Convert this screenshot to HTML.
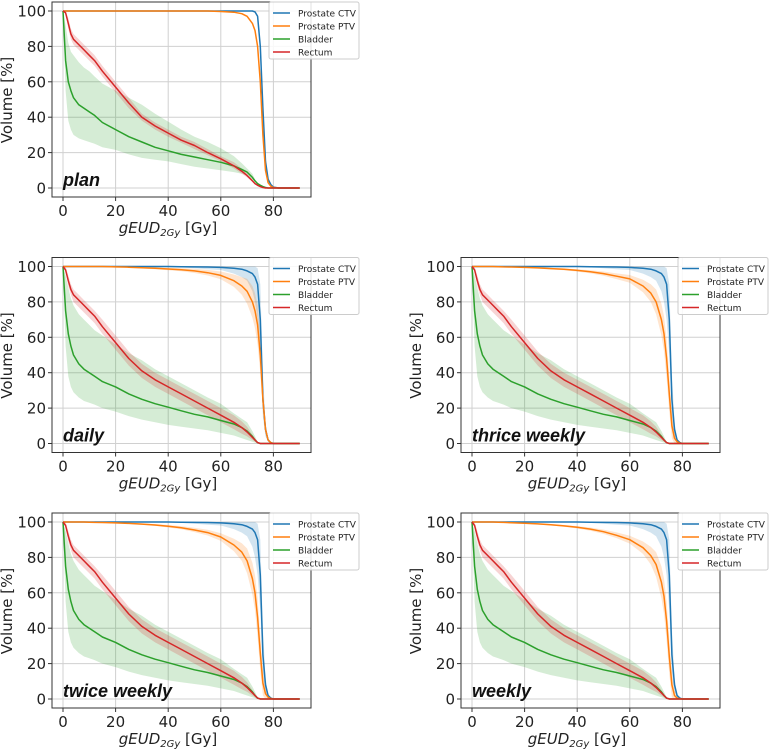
<!DOCTYPE html>
<html><head><meta charset="utf-8">
<style>
html,body{margin:0;padding:0;background:#fff;}
svg{display:block;font-family:"DejaVu Sans","Liberation Sans",sans-serif;}
</style></head>
<body>
<svg id="fig" width="770" height="749" viewBox="0 0 770 749" xmlns="http://www.w3.org/2000/svg"></svg>
<script>
const dose = [0,1,2,3,4,6,8,10,12,15,20,25,30,35,40,45,50,55,60,65,68,70,72,73,74,75,76,77,78,79,80,82,85,90];
const xTicks = [0,20,40,60,80];
const yTicks = [0,20,40,60,80,100];
const seriesNames = ["Prostate CTV","Prostate PTV","Bladder","Rectum"];
const panelLabels = ["plan","daily","thrice weekly","twice weekly","weekly"];

// plan
const planCTV = [100,100,100,100,100,100,100,100,100,100,100,100,100,100,100,100,100,100,100,100,100,100,100,99.5,97,80,45,15,5,2,0.5,0,0,0];
const planPTV = [100,100,100,100,100,100,100,100,100,100,100,100,100,100,100,100,100,100,99.7,99.3,98.5,97,93,89,80,60,30,10,3,1,0.3,0,0,0];
const planBladder = [100,72,60,55,51,47,45,43,41,37,33,29,26,23,21,19,17.5,16,14.5,12.5,10.5,9,6,4,2.5,1.5,0.8,0.3,0,0,0,0,0,0];
const planBladderLo = [100,55,38,33,30,28,27,26,25,23,21.5,19,17,16,15,13.5,12,11,10,9,8,7,5,3.5,2,1,0.5,0.2,0,0,0,0,0,0];
const planBladderHi = [100,92,82,77,75,71,68,66,63,59,55,51,47,42,37.5,33,29,26,22.5,18,14,11,8,5,3,2,1,0.4,0,0,0,0,0,0];
const planRectum = [100,99,93,87,84,81,78,75,72,66,57,48,40,35,31,27,24,20,16.5,12.5,9.5,7,4,2.5,1.5,0.8,0.3,0,0,0,0,0,0,0];
const planRectumLo = [100,98,90,84,81,78,75,72,69,63,54,45,38,33,29,25.5,22,18.5,15,11,8,6,3.5,2,1.2,0.6,0.2,0,0,0,0,0,0,0];
const planRectumHi = [100,100,96,90,87,84,81,78,75,69,60,51,42,37,33,29,26,22,18,14.5,11,8,5,3,1.8,1,0.4,0,0,0,0,0,0,0];

// fractionated panels (shared)
const fxCTV = [100,100,100,100,100,100,100,100,100,100,100,100,100,100,100,99.9,99.8,99.7,99.5,99,98.5,97.5,96,94,90,70,25,8,2,0.5,0,0,0,0];
const fxCTVLo = [100,100,100,100,100,100,100,100,100,100,100,100,100,100,99.8,99.5,99,98.5,98,96,94,92,86,80,70,50,15,4,1,0,0,0,0,0];
const fxCTVHi = [100,100,100,100,100,100,100,100,100,100,100,100,100,100,100,100,100,100,100,100,100,100,100,100,99,90,40,12,3,1,0,0,0,0];
const fxBladder = [100,75,62,55,50,45,42,40,38,35,32,28,25,22.5,20.5,18.5,16.5,15,13,11,9,7,4,2,0.5,0,0,0,0,0,0,0,0,0];
const fxBladderLo = [100,55,38,32,29,26,24,23,22,20,18,15.5,13.5,12,10.5,9.5,8.5,7.5,6,4.5,3,2,1,0.5,0,0,0,0,0,0,0,0,0,0];
const fxBladderHi = [100,95,88,82,78,73,70,67,64,61,56,51,47,42,38,34,30,26,22.5,17,14,12,7,4,1,0,0,0,0,0,0,0,0,0];
const fxRectum = [100,98,92,87,84,81,78,75,72,66,57,48,41,36,32,28,24,20,16,12,9,6.5,3.5,2,0.5,0,0,0,0,0,0,0,0,0];
const fxRectumLo = [100,97,89,84,80,77,74,71,68,62,53,44,37,32,28,24,20,16,12,8,5.5,4,2,1,0.2,0,0,0,0,0,0,0,0,0];
const fxRectumHi = [100,100,95,90,87,84,81,78,75,70,61,52,45,40,36,32,28,24,20,16,12.5,9.5,5,3,1,0,0,0,0,0,0,0,0,0];
const dailyPTV = [100,100,100,100,100,100,100,100,100,100,99.8,99.6,99.3,99,98.6,98.2,97.5,96.5,95,92,89,86,80,75,67,50,25,8,2,0.5,0,0,0,0];
const thricePTV = [100,100,100,100,100,100,100,99.9,99.8,99.7,99.5,99.2,98.8,98.4,97.8,97,96,94.5,93,89,85,80,70,62,48,28,10,3,1,0.3,0,0,0,0];
const twicePTV = [100,100,100,100,100,100,100,99.9,99.8,99.7,99.5,99.2,98.8,98.3,97.6,96.8,95.5,94,91.5,87,83,78,68,60,46,26,9,3,1,0.3,0,0,0,0];
const weeklyPTV = [100,100,100,100,100,100,100,99.9,99.8,99.6,99.3,98.9,98.4,97.8,97,96,94.5,92.5,90,85.5,81,76,66,58,44,24,8,2,0.5,0.2,0,0,0,0];
const ptvBandHalf = [0,0,0,0,0,0,0,0,0.1,0.1,0.2,0.3,0.4,0.5,0.7,0.9,1.2,1.6,2.2,3.5,5,7,9,10,11,10,7,3,1,0.3,0,0,0,0];

const colors = ["#1f77b4","#ff7f0e","#2ca02c","#d62728"];
const svg = document.getElementById('fig');
const NS = "http://www.w3.org/2000/svg";
function mk(tag, attrs, parent){ const e=document.createElementNS(NS,tag); for(const k in attrs) e.setAttribute(k,attrs[k]); (parent||svg).appendChild(e); return e; }

const panels = [
  {col:0,row:0,ptv:planPTV,ptvLo:planPTV,ptvHi:planPTV,ctv:planCTV,ctvLo:planCTV,ctvHi:planCTV,bl:planBladder,blLo:planBladderLo,blHi:planBladderHi,re:planRectum,reLo:planRectumLo,reHi:planRectumHi},
  {col:0,row:1,ptv:dailyPTV},
  {col:1,row:1,ptv:thricePTV},
  {col:0,row:2,ptv:twicePTV},
  {col:1,row:2,ptv:weeklyPTV}
];
panels.forEach((p,i)=>{
  if(i>0){
    p.ctv=fxCTV;p.ctvLo=fxCTVLo;p.ctvHi=fxCTVHi;
    p.bl=fxBladder;p.blLo=fxBladderLo;p.blHi=fxBladderHi;
    p.re=fxRectum;p.reLo=fxRectumLo;p.reHi=fxRectumHi;
    p.ptvLo=p.ptv.map((v,j)=>Math.max(0,v-ptvBandHalf[j]));
    p.ptvHi=p.ptv.map((v,j)=>Math.min(100,v+ptvBandHalf[j]));
  }
});

panels.forEach((p,i)=>{
  const x0 = 63 + p.col*409, y0 = 188 + p.row*255.5;
  const sx = d => x0 + d*2.63;
  const sy = v => y0 - v*1.77;
  const g = mk('g',{});
  
  
  const L=x0-11,R=x0+248,T=y0-186,B=y0+9;
  xTicks.forEach(t=>{
    const l=mk('line',{x1:sx(t),x2:sx(t),y1:T,y2:B,stroke:'#d0d0d0','stroke-width':1},g);
     
    const tk=mk('line',{x1:sx(t),x2:sx(t),y1:B,y2:B+4,stroke:'#333','stroke-width':1},g);
     
    const tx=mk('text',{x:sx(t),y:B+19,'font-size':15,'text-anchor':'middle',fill:'#222'},g);
    tx.textContent=t;
     
  });
  yTicks.forEach(t=>{
    const l=mk('line',{x1:L,x2:R,y1:sy(t),y2:sy(t),stroke:'#d0d0d0','stroke-width':1},g);
     
    const tk=mk('line',{x1:L-4,x2:L,y1:sy(t),y2:sy(t),stroke:'#333','stroke-width':1},g);
     
    const tx=mk('text',{x:L-6,y:sy(t)+5.5,'font-size':15,'text-anchor':'end',fill:'#222'},g);
    tx.textContent=t;
     
  });
  const sets=[[p.ctv,p.ctvLo,p.ctvHi],[p.ptv,p.ptvLo,p.ptvHi],[p.bl,p.blLo,p.blHi],[p.re,p.reLo,p.reHi]];
  sets.forEach((s,k)=>{
    let d='M'+dose.map((x,j)=>sx(x).toFixed(1)+','+sy(s[2][j]).toFixed(1)).join('L');
    for(let j=dose.length-1;j>=0;j--) d+='L'+sx(dose[j]).toFixed(1)+','+sy(s[1][j]).toFixed(1);
    const b=mk('path',{d:d+'Z',fill:colors[k],'fill-opacity':0.2,stroke:'none'},g);
    
    
  });
  sets.forEach((s,k)=>{
    const d='M'+dose.map((x,j)=>sx(x).toFixed(1)+','+sy(s[0][j]).toFixed(1)).join('L');
    const ln=mk('path',{d:d,fill:'none',stroke:colors[k],'stroke-width':1.5,'stroke-linejoin':'round'},g);
    
    
  });
  const fr=mk('rect',{x:L,y:T,width:R-L,height:B-T,fill:'none',stroke:'#333','stroke-width':1},g);
   
  const pl=mk('text',{x:x0,y:y0-2,'font-size':18,'font-weight':'bold','font-style':'italic',fill:'#111','font-family':'"Liberation Sans",sans-serif'},g);
  pl.textContent=panelLabels[i];
   
  const xl=mk('text',{x:x0+105,y:y0+45,'font-size':15,'text-anchor':'middle',fill:'#222'},g);
  xl.innerHTML='<tspan font-style="italic">gEUD</tspan><tspan font-style="italic" font-size="10" dy="3">2Gy</tspan><tspan dy="-3"> [Gy]</tspan>';
   
  const yl=mk('text',{x:0,y:0,'font-size':15,'text-anchor':'middle',fill:'#222',transform:`translate(${x0-51},${y0-88}) rotate(-90)`},g);
  yl.textContent='Volume [%]';
   
  const lx=x0+206, ly=y0-186;
  const lg=mk('g',{},g);
   
  mk('rect',{x:lx,y:ly,width:90,height:57,fill:'#fff','fill-opacity':0.85,stroke:'#ccc','stroke-width':1,rx:2},lg);
  seriesNames.forEach((n,k)=>{
    const e=mk('g',{},lg);
     
    mk('line',{x1:lx+4,x2:lx+21,y1:ly+11+k*13,y2:ly+11+k*13,stroke:colors[k],'stroke-width':1.5},e);
    const t=mk('text',{x:lx+29,y:ly+14.5+k*13,'font-size':9,fill:'#222'},e);
    t.textContent=n;
  });
});
</script>
</body></html>
